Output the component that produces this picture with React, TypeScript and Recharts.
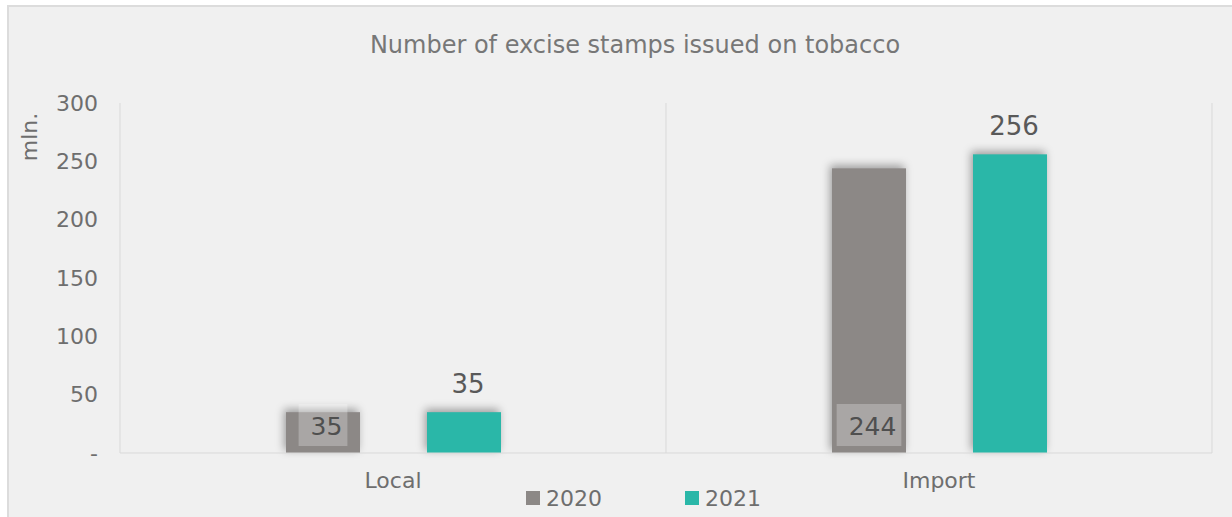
import { BarChart, Bar, XAxis, YAxis, CartesianGrid, LabelList, Legend } from "recharts";

const categories = ["Local", "Import"];
const stamps2020 = [35, 244];
const stamps2021 = [35, 256];
const yTicks = [0, 50, 100, 150, 200, 250, 300];
const seriesNames = ["2020", "2021"];

const chartData = categories.map((category, i) => ({
  category,
  y2020: stamps2020[i],
  y2021: stamps2021[i],
  slot: i + 0.5,
}));

const font = "'DejaVu Sans', sans-serif";
const gray = "#8c8886";
const teal = "#2ab7a8";
const shadow = "drop-shadow(-2px -3px 4px rgba(0,0,0,0.35))";

const tickFormatter = (tick: number) => (tick === 0 ? "-" : `${tick}`);

const BarShape = (props: any) => {
  const { x, y, width, height, fill } = props;
  return <rect x={x} y={y} width={width} height={height} fill={fill} style={{ filter: shadow }} />;
};

const InsideLabel = (props: any) => {
  const { x, y, width, height, value } = props;
  const base = y + height;
  const textW = String(value).length * 15.9;
  const boxW = textW + 17;
  const cx = x + width / 2;
  return (
    <g>
      <rect x={cx - boxW / 2} y={base - 49} width={boxW} height={42} fill="rgba(255,255,255,0.26)" />
      <text
        x={cx + boxW / 2 - 5}
        y={base - 18}
        textAnchor="end"
        fontFamily={font}
        fontSize={25}
        fill="#4f4f4f"
      >
        {value}
      </text>
    </g>
  );
};

const TopLabel = (props: any) => {
  const { x, y, width, value } = props;
  return (
    <text x={x + width / 2 + 4} y={y - 19} textAnchor="middle" fontFamily={font} fontSize={26} fill="#595959">
      {value}
    </text>
  );
};

const AxisTitle = (props: any) => {
  const { viewBox } = props;
  const tx = viewBox.x + 37;
  const ty = viewBox.y + 34;
  return (
    <text
      x={tx}
      y={ty}
      transform={`rotate(-90, ${tx}, ${ty})`}
      textAnchor="middle"
      fontFamily={font}
      fontSize={22}
      fill="#6e6e6e"
    >
      mln.
    </text>
  );
};

const LegendContent = () => (
  <div style={{ display: "flex", alignItems: "center", height: 30, paddingLeft: 526, fontFamily: font }}>
    {seriesNames.map((name, i) => (
      <div key={name} style={{ display: "flex", alignItems: "center", width: 159 }}>
        <span style={{ width: 14, height: 14, background: i === 0 ? gray : teal, display: "inline-block" }} />
        <span style={{ marginLeft: 6, fontSize: 22, color: "#6e6e6e" }}>{name}</span>
      </div>
    ))}
  </div>
);

export default function App() {
  return (
    <div style={{ position: "absolute", left: 0, top: 0, width: 1232, height: 517, background: "#fff", overflow: "hidden" }}>
      <div
        style={{
          position: "absolute",
          left: 7,
          top: 5,
          width: 1240,
          height: 530,
          border: "2px solid #dcdcdc",
          background: "#f0f0f0",
        }}
      />
      <div
        style={{
          position: "absolute",
          top: 31,
          left: 0,
          width: 1270,
          textAlign: "center",
          fontFamily: font,
          fontSize: 24,
          lineHeight: "28px",
          color: "#777777",
        }}
      >
        Number of excise stamps issued on tobacco
      </div>
      <div style={{ position: "absolute", left: 0, top: 0 }}>
        <BarChart
          width={1232}
          height={517}
          data={chartData}
          margin={{ top: 103, right: 20, bottom: 0, left: 0 }}
          barSize={74}
          barGap={67}
        >
          <CartesianGrid xAxisId="grid" horizontal={false} stroke="#d9d9d9" />
          <XAxis
            dataKey="category"
            height={64}
            tickLine={false}
            axisLine={{ stroke: "#d9d9d9" }}
            tickMargin={13}
            tick={{ fill: "#6e6e6e", fontSize: 22, fontFamily: font }}
          />
          <XAxis xAxisId="grid" type="number" domain={[0, 2]} ticks={[0, 1, 2]} dataKey="slot" hide />
          <YAxis
            width={120}
            domain={[0, 300]}
            ticks={yTicks}
            tickFormatter={tickFormatter}
            axisLine={false}
            tickLine={false}
            tickMargin={16}
            tick={{ fill: "#6e6e6e", fontSize: 22, fontFamily: font }}
            label={<AxisTitle />}
          />
          <Legend
            layout="horizontal"
            verticalAlign="middle"
            align="center"
            wrapperStyle={{ top: 483, left: 0, width: 1232 }}
            content={<LegendContent />}
          />
          <Bar dataKey="y2020" name="2020" fill={gray} isAnimationActive={false} shape={<BarShape />}>
            <LabelList dataKey="y2020" content={<InsideLabel />} />
          </Bar>
          <Bar dataKey="y2021" name="2021" fill={teal} isAnimationActive={false} shape={<BarShape />}>
            <LabelList dataKey="y2021" content={<TopLabel />} />
          </Bar>
        </BarChart>
      </div>
    </div>
  );
}
